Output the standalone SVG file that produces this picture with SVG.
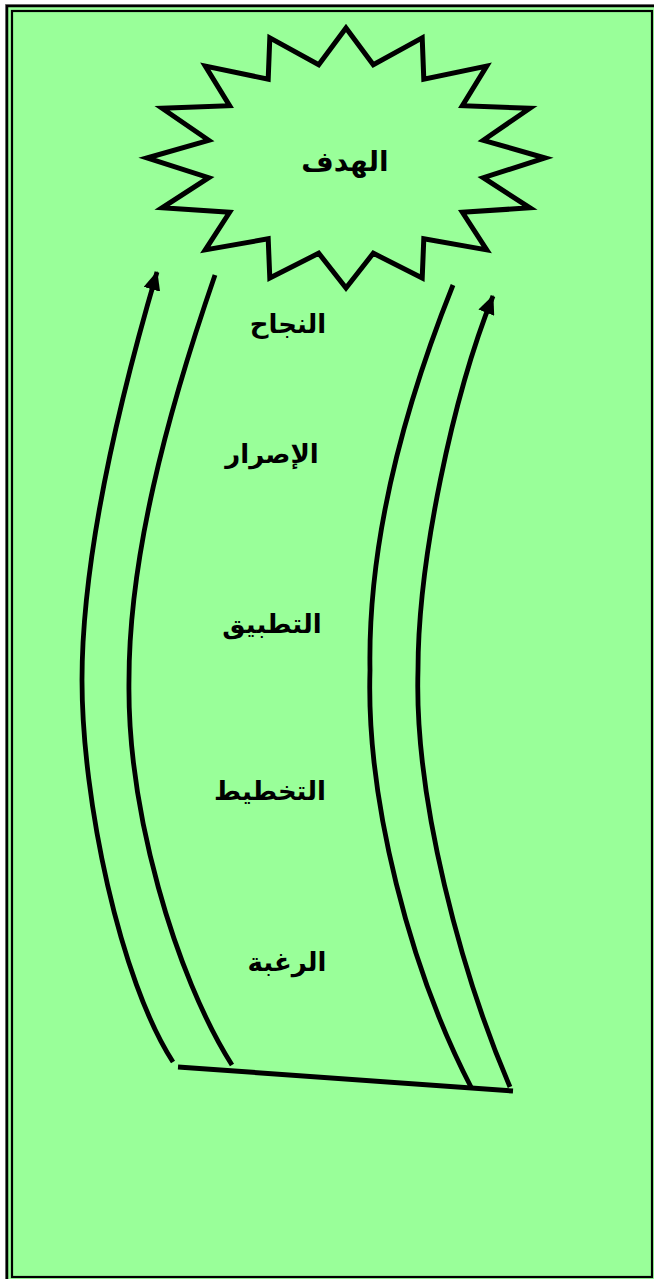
<svg xmlns="http://www.w3.org/2000/svg" width="654" height="1279" viewBox="0 0 654 1279">
<style>
.lbl{font-family:"DejaVu Sans",sans-serif;font-weight:bold;fill:#000;text-anchor:middle}
.arc{fill:none;stroke:#000;stroke-width:4.8}
</style>
<defs>
<marker id="ah" markerUnits="userSpaceOnUse" markerWidth="19" markerHeight="17" viewBox="0 0 19 17" refX="18" refY="8.5" orient="auto">
<path d="M0,0 L19,8.5 L0,17 z" fill="#000"/>
</marker>
</defs>
<rect x="0" y="0" width="654" height="1279" fill="#fff"/>
<rect x="5.5" y="4.5" width="700" height="1300" fill="none" stroke="#888" stroke-width="1"/>
<rect x="7" y="6" width="700" height="1300" fill="#99FF99" stroke="#000" stroke-width="2.5"/>
<rect x="12" y="11" width="640" height="1266" fill="none" stroke="#000" stroke-width="2.2"/>
<g id="goal">
<polygon fill="#99FF99" stroke="#000" stroke-width="5" stroke-linejoin="miter" points="346,28 373.3,64.8 422.2,37.9 423.8,79.2 486.7,66.1 462.4,105.7 529.9,108.2 483.3,140.3 545,158 483.3,177.7 529.9,207.8 462.4,212.3 486.7,249.9 423.8,238.8 422.2,278.1 373.3,253.2 346,288 318.7,253.2 269.8,278.1 268.2,238.8 205.3,249.9 229.6,212.3 162.1,207.8 208.7,177.7 147,158 208.7,140.3 162.1,108.2 229.6,105.7 205.3,66.1 268.2,79.2 269.8,37.9 318.7,64.8"/>
<text class="lbl" x="345" y="171" font-size="28">الهدف</text>
</g>
<g id="success"><text class="lbl" x="288" y="333" font-size="26">النجاح</text></g>
<g id="persistence"><text class="lbl" x="272" y="463" font-size="26">الإصرار</text></g>
<g id="application"><text class="lbl" x="272" y="633" font-size="26">التطبيق</text></g>
<g id="planning"><text class="lbl" x="270" y="800" font-size="26">التخطيط</text></g>
<g id="desire"><text class="lbl" x="287" y="971" font-size="26">الرغبة</text></g>
<g id="connectors">
<path class="arc" d="M173,1062 C120,980 82,800 82,680 C82,560 115,415 157,272" marker-end="url(#ah)"/>
<path class="arc" d="M232,1065 C175,975 127,810 129,680 C129,560 165,420 215,275"/>
<path class="arc" d="M472,1089 C410,970 366,800 370,670 C368,560 395,430 453,285"/>
<path class="arc" d="M510,1087 C462,975 414,800 418,670 C418,560 453,396 493,296" marker-end="url(#ah)"/>
<line x1="178" y1="1067" x2="513" y2="1091" stroke="#000" stroke-width="5"/>
</g>
</svg>
